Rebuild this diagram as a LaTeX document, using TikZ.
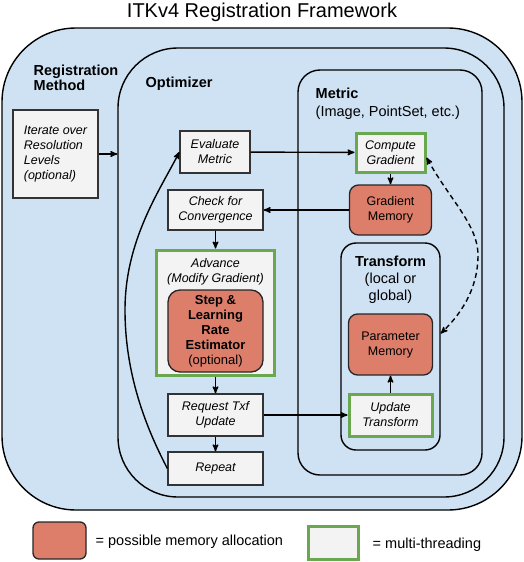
\documentclass[tikz,border=0pt]{standalone}
\usepackage{fontspec}
\setmainfont{Liberation Sans}
\usetikzlibrary{arrows,calc}
\definecolor{bgblue}{HTML}{CFE2F3}
\definecolor{memred}{HTML}{DD7E6B}
\definecolor{thrgreen}{HTML}{6AA84F}
\definecolor{boxgray}{HTML}{F3F3F3}

\begin{document}
\begin{tikzpicture}[x=1pt,y=-1pt,>=stealth',line width=1.4pt,
  cont node/.style={draw,fill=bgblue,line width=1.4pt,inner sep=0pt},
  box node/.style={draw=black!80,fill=boxgray,line width=1.3pt,inner sep=0pt,align=center,font=\fontsize{12.5}{15}\selectfont\itshape},
  mem node/.style={draw=black!85,fill=memred,rounded corners=9pt,line width=1.3pt,inner sep=0pt,align=center,font=\fontsize{12.5}{15}\selectfont},
  mt node/.style={box node,draw=thrgreen,line width=3pt},
  head/.style={inner sep=0pt,font=\fontsize{14.5}{15}\selectfont\bfseries},
  plain/.style={inner sep=0pt,font=\fontsize{14.5}{17}\selectfont}]

\useasboundingbox (0,0) rectangle (524,562);

% nested containers
\node[cont node,rounded corners=74pt,minimum width=520pt,minimum height=482pt] (method) at (262,269) {};
\node[cont node,rounded corners=60pt,minimum width=386pt,minimum height=449pt] (optimizer) at (311,272.5) {};
\node[cont node,rounded corners=22pt,minimum width=184pt,minimum height=405pt] (metric) at (390,272.5) {};
\node[cont node,rounded corners=15pt,minimum width=99pt,minimum height=207pt] (transform) at (390.5,346.5) {};

\node[plain,font=\fontsize{20}{24}\selectfont] (title) at (262,12) {ITKv4 Registration Framework};
\node[head,align=left,anchor=west] (methodlbl) at (33,77.5) {Registration\\Method};
\node[head,anchor=west] (optlbl) at (145,84) {Optimizer};
\node[plain,font=\fontsize{14.5}{18}\selectfont,align=left,anchor=west] (metriclbl) at (315,104) {\textbf{Metric}\\(Image, PointSet, etc.)};
\node[plain,align=center] (translbl) at (390.5,280) {\textbf{Transform}\\(local or\\global)};

% steps
\node[box node,align=left,minimum width=85pt,minimum height=88pt] (iterate) at (55.5,154) {Iterate over\\Resolution\\Levels\\(optional)};
\node[box node,minimum width=70pt,minimum height=42pt] (evaluate) at (215,152) {Evaluate\\Metric};
\node[box node,minimum width=95pt,minimum height=40pt] (check) at (215.5,210) {Check for\\Convergence};
\node[mt node,minimum width=118pt,minimum height=125pt] (advance) at (215.5,312.5) {};
\node[box node,draw=none,fill=none] (advlbl) at (215.5,271.5) {Advance\\(Modify Gradient)};
\node[mem node,rounded corners=12pt,minimum width=95pt,minimum height=82pt,font=\fontsize{13}{15}\selectfont] (step) at (215.5,331) {\textbf{Step \&}\\\textbf{Learning}\\\textbf{Rate}\\\textbf{Estimator}\\(optional)};
\node[box node,minimum width=95pt,minimum height=42pt] (request) at (215.5,415) {Request Txf\\Update};
\node[box node,minimum width=95pt,minimum height=33pt] (repeat) at (215.5,468.5) {Repeat};

\node[mt node,minimum width=69pt,minimum height=39pt] (compute) at (390.5,152.5) {Compute\\Gradient};
\node[mem node,minimum width=82pt,minimum height=50pt] (gradmem) at (390.5,210) {Gradient\\Memory};
\node[mem node,minimum width=84pt,minimum height=61pt] (parammem) at (390.5,344.5) {Parameter\\Memory};
\node[mt node,minimum width=83pt,minimum height=42pt] (update) at (390.5,415) {Update\\Transform};

% legend
\node[mem node,rounded corners=6pt,minimum width=53pt,minimum height=37pt] (memkey) at (59.5,540.5) {};
\node[plain,anchor=west] (memtxt) at (95,542) {= possible memory allocation};
\node[mt node,minimum width=50pt,minimum height=33pt] (mtkey) at (333,542.5) {};
\node[plain,anchor=west] (mttxt) at (372,545) {= multi-threading};

\path[->]
(iterate) edge (iterate -| optimizer.west)
(evaluate) edge (compute)
(compute) edge (gradmem)
(gradmem) edge (check)
(check) edge (advance)
(advance) edge (request)
(request) edge (repeat)
(request) edge (update)
(update) edge (parammem);

\draw[->] (repeat.west) .. controls (150,435) and (125,380) .. (125,310)
  .. controls (125,240) and (160,190) .. (evaluate.west);
\draw[<->,dash pattern=on 5pt off 3.5pt] ([yshift=-5pt]compute.east) .. controls (450,200) and (478,225) .. (478,255)
  .. controls (478,290) and (460,315) .. ([yshift=13pt]transform.east);

\end{tikzpicture}
\end{document}
